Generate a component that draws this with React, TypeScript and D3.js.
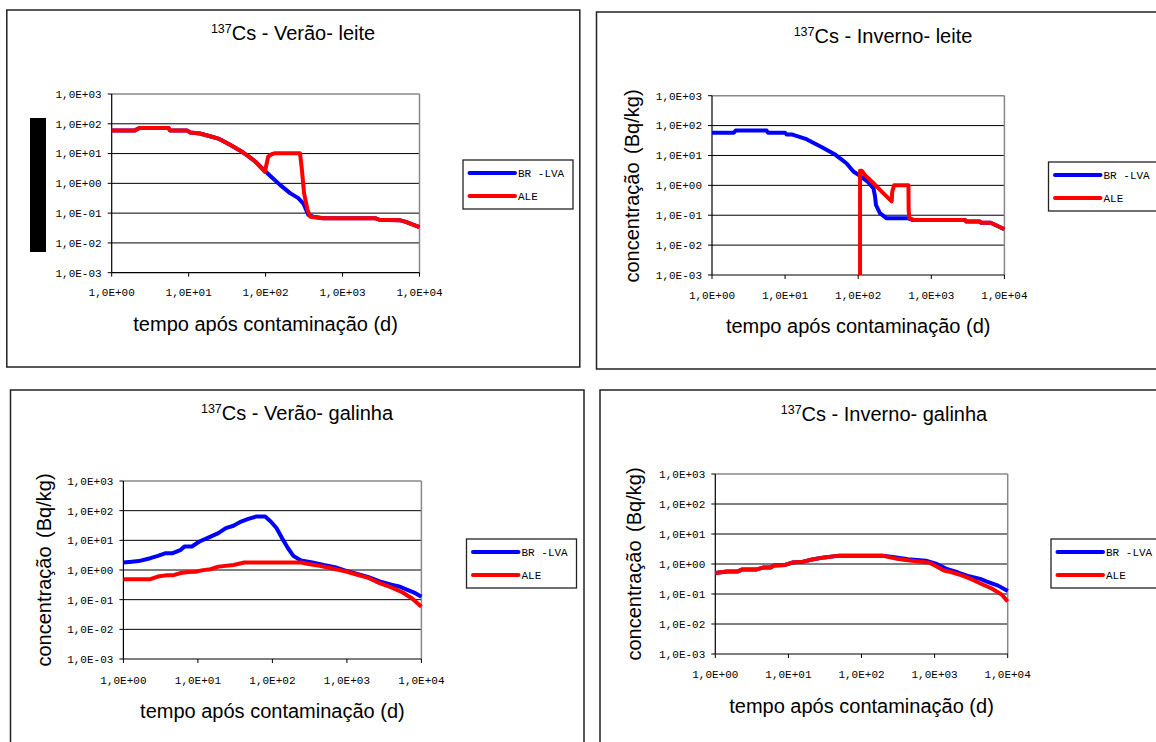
import * as d3 from 'd3';

type Pt = [number, number];

// ---- data (days, Bq/kg) ----
const decades = [1, 10, 100, 1000, 10000];
const concTicks = [1e-3, 1e-2, 1e-1, 1, 10, 100, 1000];
const seriesNames = ['BR -LVA', 'ALE'];

const veraoLeiteBR: Pt[] = [
  [1, 60], [2, 60], [2.3, 72], [5.5, 72], [5.7, 60], [9.5, 60], [10.5, 51], [14, 47],
  [19, 38], [25, 31], [34.5, 19.6], [47, 12.5], [60, 8], [74, 5.3], [93, 3], [100, 2.5],
  [120, 1.6], [154, 0.89], [208, 0.47], [266, 0.32], [310, 0.21], [359, 0.087], [417, 0.076],
  [560, 0.067], [2700, 0.067], [3000, 0.06], [5500, 0.058], [6500, 0.052], [10000, 0.034],
];
const veraoLeiteALE: Pt[] = [
  [1, 60], [2, 60], [2.3, 72], [5.5, 72], [5.7, 60], [9.5, 60], [10.5, 51], [14, 47],
  [19, 38], [25, 31], [34.5, 19.6], [47, 12.5], [60, 8], [74, 5.3], [98, 2.45], [108, 7.9],
  [120, 9.5], [133, 10.3], [280, 10.3], [295, 3.2], [316, 0.47], [350, 0.13], [380, 0.076],
  [560, 0.067], [2700, 0.067], [3000, 0.06], [5500, 0.058], [6500, 0.052], [10000, 0.034],
];

const invernoLeiteBR: Pt[] = [
  [1, 58], [2, 58], [2.1, 68], [5.6, 68], [5.8, 58], [10, 58], [10.5, 50], [12.6, 50],
  [19.6, 35], [31, 19.5], [49, 10.5], [56, 8.1], [69, 5.5], [86, 2.9], [102, 2.2], [136, 1.3],
  [162, 0.79], [170, 0.42], [175, 0.22], [198, 0.117], [245, 0.079], [487, 0.079], [560, 0.069],
  [2900, 0.069], [3000, 0.062], [4600, 0.062], [4800, 0.056], [6500, 0.056], [10000, 0.034],
];
const invernoLeiteALE: Pt[] = [
  [106, 0.001], [106, 3.1], [112, 3.1], [124, 2.2], [162, 1.17], [220, 0.55], [287, 0.29],
  [292, 0.62], [310, 1.0], [487, 1.0], [490, 0.15], [500, 0.079], [600, 0.069],
  [2900, 0.069], [3000, 0.062], [4600, 0.062], [4800, 0.056], [6500, 0.056], [10000, 0.034],
];

const veraoGalinhaBR: Pt[] = [
  [1, 1.8], [1.3, 1.9], [1.6, 2.0], [2.3, 2.5], [2.9, 3.0], [3.7, 3.7], [4.6, 3.7], [5.9, 4.8],
  [6.6, 6.2], [8.3, 6.2], [10.5, 9.1], [14.8, 13.4], [18.8, 17.4], [23.7, 25.7], [30, 31],
  [38, 43], [47.5, 53], [60, 63], [80, 63], [95, 43], [114, 25.5], [135, 11.8], [162, 5.4],
  [191, 3.0], [242, 2.1], [344, 1.8], [488, 1.48], [690, 1.25], [980, 0.93], [1380, 0.74],
  [1950, 0.57], [2750, 0.41], [3950, 0.32], [5000, 0.28], [6600, 0.21], [8300, 0.165], [10000, 0.125],
];
const veraoGalinhaALE: Pt[] = [
  [1, 0.49], [2.3, 0.49], [2.9, 0.6], [3.7, 0.66], [4.6, 0.66], [5.9, 0.79], [7.4, 0.86],
  [9.3, 0.87], [11.7, 0.99], [14.8, 1.06], [18.8, 1.3], [30, 1.48], [42, 1.8], [242, 1.8],
  [305, 1.6], [433, 1.38], [615, 1.15], [980, 0.89], [1380, 0.69], [1950, 0.54], [2750, 0.36],
  [3950, 0.26], [5600, 0.175], [7500, 0.11], [10000, 0.058],
];

const invernoGalinhaBR: Pt[] = [
  [1, 0.5], [1.45, 0.56], [2.0, 0.56], [2.3, 0.65], [3.6, 0.65], [4.5, 0.76], [5.7, 0.76],
  [6.4, 0.89], [9, 0.93], [11.3, 1.12], [15.8, 1.2], [22, 1.44], [31, 1.66], [49.5, 1.9],
  [193, 1.9], [270, 1.7], [430, 1.44], [760, 1.28], [1070, 1.0], [1500, 0.67], [2100, 0.52],
  [2960, 0.39], [4200, 0.32], [5200, 0.26], [7400, 0.19], [10000, 0.125],
];
const invernoGalinhaALE: Pt[] = [
  [1, 0.5], [1.45, 0.56], [2.0, 0.56], [2.3, 0.65], [3.6, 0.65], [4.5, 0.76], [5.7, 0.76],
  [6.4, 0.89], [9, 0.93], [11.3, 1.12], [15.8, 1.2], [22, 1.44], [31, 1.66], [49.5, 1.9],
  [193, 1.9], [305, 1.5], [430, 1.33], [600, 1.22], [850, 1.1], [1070, 0.83], [1340, 0.61],
  [1670, 0.54], [2350, 0.42], [3300, 0.3], [4700, 0.2], [5900, 0.158], [8300, 0.095], [10000, 0.056],
];

const titles = ['Verão- leite', 'Inverno- leite', 'Verão- galinha', 'Inverno- galinha'];

// ---- layout (pixels) ----
interface Layout {
  box: [number, number, number, number];
  plot: [number, number, number, number]; // x0, x1, yTop, yBottom
  titleX: number; titleY: number;
  xTitleY: number; xTickY: number;
  yLabel?: [number, number];
  blackout?: [number, number, number, number];
  legend: [number, number]; // box left, box top
}

const layouts: Layout[] = [
  { box: [6.8, 10, 573, 357], plot: [111.7, 419.5, 94, 272.7], titleX: 293, titleY: 40,
    xTitleY: 330.5, xTickY: 292, blackout: [30, 118, 16, 134], legend: [463, 160] },
  { box: [596.5, 12, 573, 357], plot: [712, 1004.4, 95.7, 275], titleX: 883, titleY: 42.7,
    xTitleY: 333, xTickY: 295, yLabel: [639, 186], legend: [1048.5, 162] },
  { box: [10.5, 390, 573.5, 400], plot: [123.4, 421.4, 481, 659], titleX: 297, titleY: 420,
    xTitleY: 718, xTickY: 680, yLabel: [51, 570], legend: [466.5, 539] },
  { box: [600, 390, 573, 400], plot: [715.3, 1007.7, 474, 654], titleX: 884, titleY: 420.7,
    xTitleY: 712.7, xTickY: 674, yLabel: [641, 564], legend: [1051, 539] },
];

const panelData: Pt[][][] = [
  [veraoLeiteBR, veraoLeiteALE],
  [invernoLeiteBR, invernoLeiteALE],
  [veraoGalinhaBR, veraoGalinhaALE],
  [invernoGalinhaBR, invernoGalinhaALE],
];

const COLORS = ['#0000ff', '#ff0000'];
const SANS = 'Arial, "Liberation Sans", sans-serif';
const MONO = '"Courier New", "Liberation Mono", monospace';

const fmtExp = (v: number) => {
  const e = Math.round(Math.log10(v));
  return `1,0E${e < 0 ? '-' : '+'}${String(Math.abs(e)).padStart(2, '0')}`;
};

function Panel({ lay, series, title }: { lay: Layout; series: Pt[][]; title: string }) {
  const [x0, x1, yT, yB] = lay.plot;
  const x = d3.scaleLog().domain([1, 10000]).range([x0, x1]);
  const y = d3.scaleLog().domain([1e-3, 1e3]).range([yB, yT]);
  const line = d3.line<Pt>().x((d) => x(d[0])).y((d) => y(d[1]));
  const [bx, by, bw, bh] = lay.box;
  const [lx, ly] = lay.legend;

  return (
    <g>
      <rect x={bx} y={by} width={bw} height={bh} fill="#fff" stroke="#222" strokeWidth={1.5} />
      <text x={lay.titleX} y={lay.titleY} textAnchor="middle" fontFamily={SANS} fontSize={20} fill="#000">
        <tspan fontSize={12.5} dy={-7}>137</tspan>
        <tspan dy={7}>Cs - {title}</tspan>
      </text>

      {/* grid */}
      {concTicks.slice(1, -1).map((t) => (
        <line key={t} x1={x0} x2={x1} y1={y(t)} y2={y(t)} stroke="#000" strokeWidth={1} />
      ))}
      <line x1={x0} x2={x1} y1={yT} y2={yT} stroke="#888" strokeWidth={1.5} />
      <line x1={x1} x2={x1} y1={yT} y2={yB} stroke="#888" strokeWidth={1.5} />

      {/* axes */}
      <line x1={x0} x2={x0} y1={yT} y2={yB} stroke="#000" strokeWidth={1.2} />
      <line x1={x0} x2={x1} y1={yB} y2={yB} stroke="#000" strokeWidth={1.2} />
      {concTicks.map((t) => (
        <g key={t}>
          <line x1={x0 - 4} x2={x0} y1={y(t)} y2={y(t)} stroke="#000" strokeWidth={1} />
          <text x={x0 - 10} y={y(t)} dy="0.35em" textAnchor="end" fontFamily={MONO} fontSize={11} fill="#000">
            {fmtExp(t)}
          </text>
        </g>
      ))}
      {decades.map((t) => (
        <g key={t}>
          <line x1={x(t)} x2={x(t)} y1={yB} y2={yB + 4} stroke="#000" strokeWidth={1} />
          <text x={x(t)} y={lay.xTickY} dy="0.35em" textAnchor="middle" fontFamily={MONO} fontSize={11} fill="#000">
            {fmtExp(t)}
          </text>
        </g>
      ))}

      {/* series: blue first, red on top */}
      {series.map((s, i) => (
        <path key={i} d={line(s) ?? ''} fill="none" stroke={COLORS[i]} strokeWidth={4} strokeLinejoin="round" />
      ))}

      <text x={(x0 + x1) / 2} y={lay.xTitleY} textAnchor="middle" fontFamily={SANS} fontSize={20} fill="#000">
        tempo após contaminação (d)
      </text>
      {lay.yLabel && (
        <text transform={`translate(${lay.yLabel[0]},${lay.yLabel[1]}) rotate(-90)`} textAnchor="middle"
          fontFamily={SANS} fontSize={20} fill="#000" wordSpacing={3}>
          concentração (Bq/kg)
        </text>
      )}
      {lay.blackout && (
        <rect x={lay.blackout[0]} y={lay.blackout[1]} width={lay.blackout[2]} height={lay.blackout[3]} fill="#000" />
      )}

      {/* legend */}
      <rect x={lx} y={ly} width={110} height={49} fill="#fff" stroke="#222" strokeWidth={1.3} />
      {seriesNames.map((n, i) => (
        <g key={n}>
          <line x1={lx + 6.5} x2={lx + 52} y1={ly + 13 + i * 23} y2={ly + 13 + i * 23}
            stroke={COLORS[i]} strokeWidth={4} strokeLinecap="round" />
          <text x={lx + 55} y={ly + 13 + i * 23} dy="0.35em" fontFamily={MONO} fontSize={11} fill="#000">
            {n}
          </text>
        </g>
      ))}
    </g>
  );
}

export default function App() {
  return (
    <svg width={1156} height={742} style={{ position: 'absolute', left: 0, top: 0, background: '#fff' }}>
      <rect width={1156} height={742} fill="#fff" />
      {layouts.map((lay, i) => (
        <Panel key={i} lay={lay} series={panelData[i]} title={titles[i]} />
      ))}
    </svg>
  );
}
